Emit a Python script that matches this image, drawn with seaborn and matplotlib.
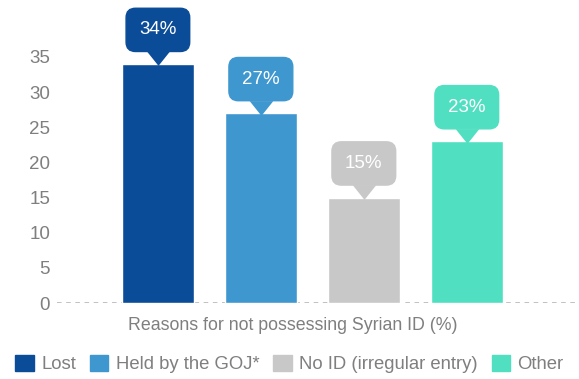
import matplotlib
matplotlib.use("Agg")
import matplotlib.pyplot as plt
import seaborn as sns
import pandas as pd
from matplotlib.patches import Patch

sns.set_theme(style="white")
plt.rcParams['font.family'] = ['Liberation Sans', 'DejaVu Sans']

# Datos
categories = ['Lost', 'Held by the GOJ*', 'No ID (irregular entry)', 'Other']
values = [34, 27, 15, 23]
colors = ['#0A4C98', '#3F97D0', '#C8C8C8', '#50E0C1']
x_label = 'Reasons for not possessing Syrian ID (%)'

df = pd.DataFrame({'cat': categories, 'val': values})

fig = plt.figure(figsize=(5.79, 3.79), dpi=100)
ax = fig.add_axes([57 / 579, 76 / 379, 522 / 579, 303 / 379])

sns.barplot(data=df, x='cat', y='val', hue='cat', palette=colors,
            width=0.7, legend=False, saturation=1, ax=ax)

ax.set_xlim(-0.98, 4.09)
ax.set_ylim(0, 43.1)
ax.set_yticks(range(0, 36, 5))
ax.tick_params(axis='y', length=0, pad=5, labelsize=13.5, labelcolor='#7F7F7F')
ax.set_xticks([])
ax.set_xlabel('')
ax.set_ylabel('')
for s in ['top', 'right', 'left', 'bottom']:
    ax.spines[s].set_visible(False)
ax.axhline(0, color='#B0B0B0', linestyle=(0, (3, 3)), linewidth=1.1, zorder=0)

# Etiquetas tipo "callout"
for i, (v, c) in enumerate(zip(values, colors)):
    ax.plot(i, v + 0.8, marker=[(-0.8, 0.5), (0.8, 0.5), (0, -0.5)],
            markersize=17, color=c, markeredgewidth=0, clip_on=False)
    ax.text(i, v + 4.85, f'{v}%', ha='center', va='center', color='white',
            fontsize=13.5, clip_on=False,
            bbox=dict(boxstyle='round,pad=0.7,rounding_size=0.5', fc=c, ec=c))

fig.text(0.505, 1 - 326 / 379, x_label, ha='center', va='center',
         fontsize=12.8, color='#7F7F7F')

handles = [Patch(facecolor=c, edgecolor=c) for c in colors]
fig.legend(handles, categories, loc='center', bbox_to_anchor=(0.5, 1 - 364 / 379),
           ncol=4, frameon=False, fontsize=13.3, labelcolor='#7F7F7F',
           handlelength=1.0, handleheight=1.0, handletextpad=0.4, columnspacing=0.75)

fig.savefig('out.png', dpi=100)
